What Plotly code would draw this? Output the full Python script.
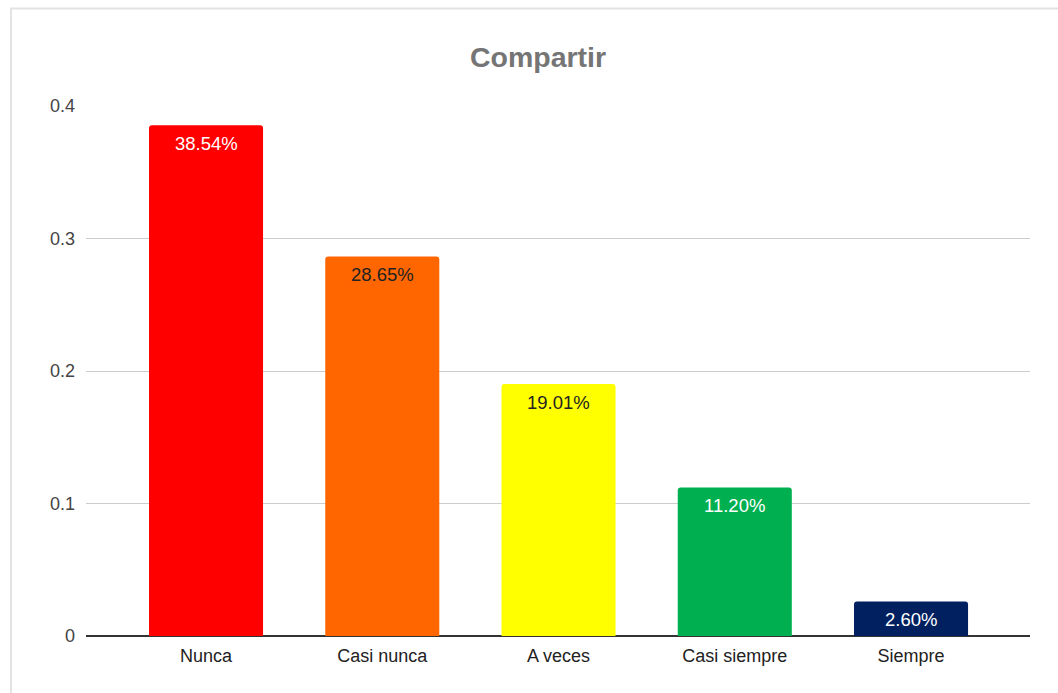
import plotly.graph_objects as go

categories = ["Nunca", "Casi nunca", "A veces", "Casi siempre", "Siempre"]
values = [0.3854, 0.2865, 0.1901, 0.1120, 0.0260]
labels = ["38.54%", "28.65%", "19.01%", "11.20%", "2.60%"]
bar_colors = ["#ff0000", "#ff6600", "#ffff00", "#00b050", "#002060"]
label_colors = ["#ffffff", "#222222", "#222222", "#ffffff", "#ffffff"]
y_ticks = [0, 0.1, 0.2, 0.3, 0.4]

FONT = "Liberation Sans, Arial"

fig = go.Figure()
fig.add_trace(go.Bar(
    x=categories, y=values,
    marker=dict(color=bar_colors, line=dict(width=0), cornerradius=3),
    width=0.647, hoverinfo="skip",
))

for c, v, t, col in zip(categories, values, labels, label_colors):
    fig.add_annotation(x=c, y=v, text=t, showarrow=False, yanchor="middle",
                       yshift=-18, font=dict(family=FONT, size=18.5, color=col))

fig.add_shape(type="rect", xref="paper", yref="paper",
              x0=-0.0795, x1=1.05, y0=-0.13, y1=1.184,
              line=dict(color="#e3e3e3", width=2), fillcolor="rgba(0,0,0,0)", layer="below")

fig.update_layout(
    width=1058, height=693,
    margin=dict(l=86, r=28, t=106, b=57),
    paper_bgcolor="white", plot_bgcolor="white",
    title=dict(text="<b>Compartir</b>", x=0.5085, xanchor="center", y=0.917, yanchor="middle",
               font=dict(family=FONT, size=28.5, color="#757575")),
    showlegend=False,
)
fig.update_xaxes(range=[-0.681, 4.675], showgrid=False, showline=False, ticks="",
                 ticklabelstandoff=7,
                 tickfont=dict(family=FONT, size=18, color="#222222"))
fig.update_yaxes(range=[0, 0.4], tickvals=y_ticks, ticktext=["0", "0.1", "0.2", "0.3", "0.4"],
                 showgrid=True, gridcolor="#cccccc", gridwidth=1,
                 zeroline=True, zerolinecolor="#333333", zerolinewidth=2,
                 showline=False, ticks="", ticklabelstandoff=10,
                 tickfont=dict(family=FONT, size=18, color="#444444"))

fig.write_html("out.html")
